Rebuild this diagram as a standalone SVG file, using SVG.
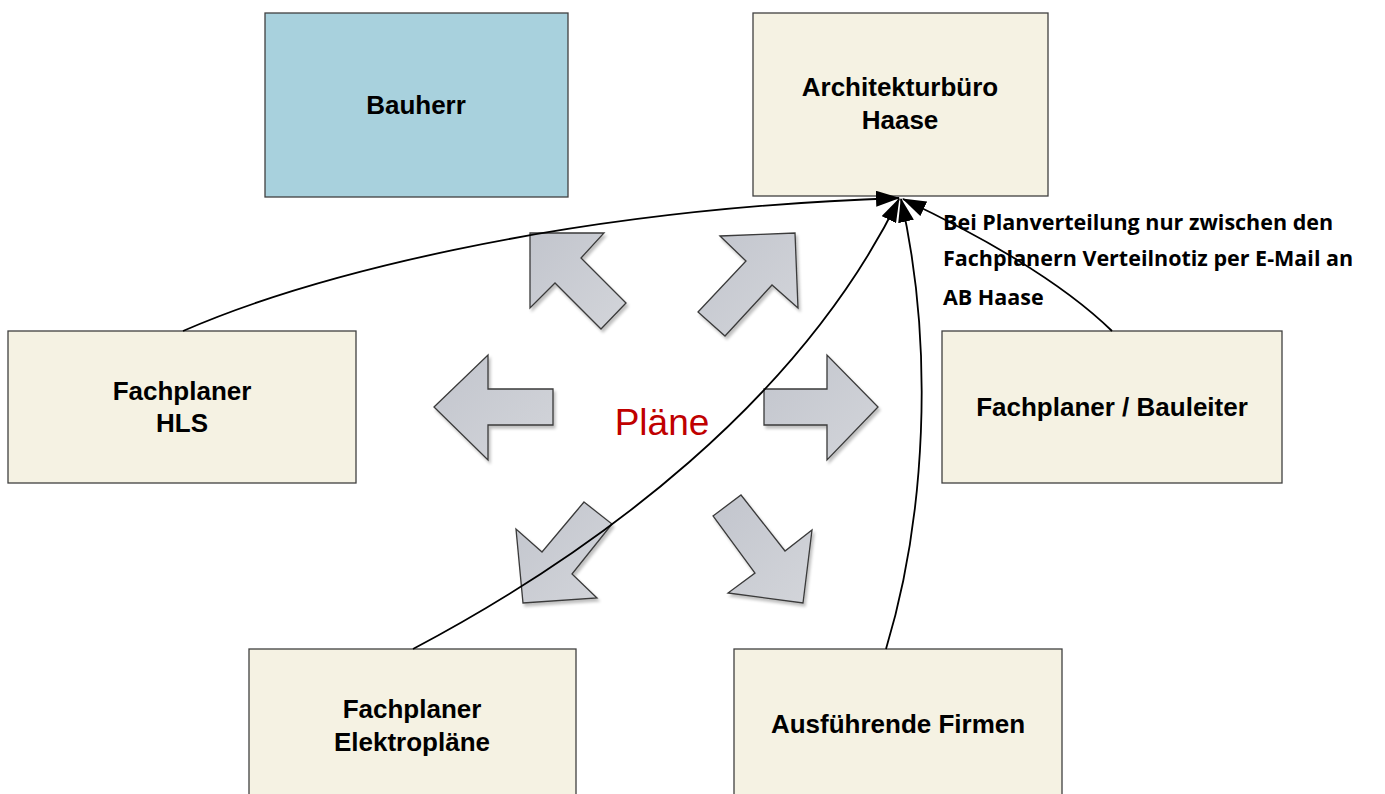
<svg xmlns="http://www.w3.org/2000/svg" width="1385" height="794" viewBox="0 0 1385 794">
  <defs>
    <linearGradient id="arrowFill" x1="0" y1="0" x2="1" y2="1">
      <stop offset="0" stop-color="#c2c5cd"/>
      <stop offset="1" stop-color="#d3d5da"/>
    </linearGradient>
    <filter id="drop" x="-20%" y="-20%" width="140%" height="140%">
      <feGaussianBlur in="SourceAlpha" stdDeviation="1.5"/>
      <feOffset dx="2" dy="3" result="b"/>
      <feComponentTransfer><feFuncA type="linear" slope="0.25"/></feComponentTransfer>
      <feMerge><feMergeNode/><feMergeNode in="SourceGraphic"/></feMerge>
    </filter>
    <marker id="head" viewBox="0 0 24 16" refX="23" refY="8" markerWidth="24" markerHeight="16" markerUnits="userSpaceOnUse" orient="auto">
      <path d="M0,0 L24,8 L0,16 z" fill="#000"/>
    </marker>
  </defs>
  <style>
    .box { stroke: #404040; stroke-width: 1.3; }
    .cream { fill: #f5f2e3; }
    .blue { fill: #a8d1dd; }
    .lbl { font-family: "Liberation Sans", Arial, sans-serif; font-weight: bold; font-size: 26px; fill: #000; text-anchor: middle; }
    .big { fill: url(#arrowFill); stroke: #3a3a3a; stroke-width: 1.3; filter: url(#drop); }
    .edge { fill: none; stroke: #000; stroke-width: 1.8; marker-end: url(#head); }
    .note { font-family: "Open Sans", "Noto Sans", sans-serif; font-weight: bold; font-size: 21.5px; fill: #000; }
  </style>

  <rect width="1385" height="794" fill="#fff"/>

  <!-- plan distribution arrows -->
  <g id="plan-arrows">
    <polygon class="big" points="530,233 604,233 581,258 626,303 601,329 555,283 530,308"/>
    <polygon class="big" points="720,236 795,233 798,308 772,285 725,336 698,312 746,261"/>
    <polygon class="big" points="434,407 488,355 488,389 553,389 553,425 488,425 488,460"/>
    <polygon class="big" points="764,389 827,389 827,355 878,407 827,460 827,425 764,425"/>
    <polygon class="big" points="584,502 612,524 572,574 597,598 523,603 516,529 542,552"/>
    <polygon class="big" points="713,516 741,495 785,551 812,530 803,603 728,593 755,573"/>
  </g>
  <text x="662" y="435" font-family="Liberation Sans, Arial, sans-serif" font-size="37" fill="#c00000" text-anchor="middle">Pläne</text>

  <g id="n-bauherr">
    <rect class="box blue" x="265" y="13" width="303" height="184"/>
    <text class="lbl" x="416" y="114">Bauherr</text>
  </g>
  <g id="n-architekt">
    <rect class="box cream" x="753" y="13" width="295" height="183"/>
    <text class="lbl" x="900" y="96">Architekturbüro</text>
    <text class="lbl" x="900" y="129">Haase</text>
  </g>
  <g id="n-hls">
    <rect class="box cream" x="8" y="331" width="348" height="152"/>
    <text class="lbl" x="182" y="400">Fachplaner</text>
    <text class="lbl" x="182" y="432">HLS</text>
  </g>
  <g id="n-bauleiter">
    <rect class="box cream" x="942" y="331" width="340" height="152"/>
    <text class="lbl" x="1112" y="416">Fachplaner / Bauleiter</text>
  </g>
  <g id="n-elektro">
    <rect class="box cream" x="249" y="649" width="327" height="160"/>
    <text class="lbl" x="412" y="718">Fachplaner</text>
    <text class="lbl" x="412" y="751">Elektropläne</text>
  </g>
  <g id="n-firmen">
    <rect class="box cream" x="734" y="649" width="328" height="160"/>
    <text class="lbl" x="898" y="733">Ausführende Firmen</text>
  </g>

  <g id="connectors">
    <path class="edge" d="M183,331 C300,280 550,210 899,198"/>
    <path class="edge" d="M413,649 C600,550 800,400 899,199"/>
    <path class="edge" d="M886,649 C925,520 935,350 901,199"/>
    <path class="edge" d="M1112,331 C1070,290 1000,245 903,199"/>
  </g>

  <g id="note">
    <text class="note" x="943" y="230">Bei Planverteilung nur zwischen den</text>
    <text class="note" x="943" y="266">Fachplanern Verteilnotiz per E-Mail an</text>
    <text class="note" x="943" y="305">AB Haase</text>
  </g>
</svg>
